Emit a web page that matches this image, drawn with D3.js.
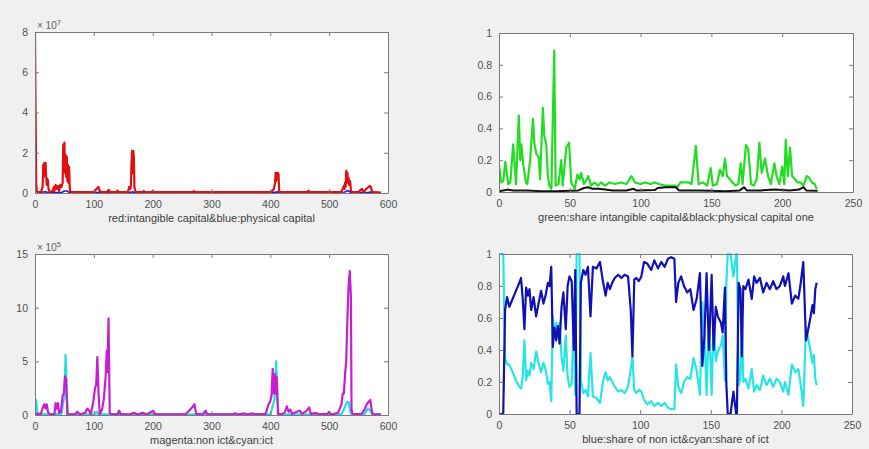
<!DOCTYPE html>
<html><head><meta charset="utf-8">
<script src="https://cdn.jsdelivr.net/npm/d3@7/dist/d3.min.js"></script>
<style>
html,body{margin:0;padding:0;background:#f0f0f0;}
svg{display:block;font-family:"Liberation Sans",Arial,Helvetica,sans-serif;}
</style></head><body>
<svg id="c" width="869" height="449"></svg>
<script>
// ---------- DATA ----------
// Panel 1 (x 0..600, values x 1e7)
const intangibleCapital = [[0,8],[1,4],[2,0.5],[3,0.1],[5,0.05],[10,0.05],[13,0.3],[14,1.4],[15,0.8],[16,1.5],[17,1.0],[18,1.5],[19,0.8],[20,0.4],[21,0.7],[22,0.6],[23,0.2],[25,0.05],[30,0.1],[32,0.3],[33,0.1],[35,0.4],[37,0.2],[39,0.35],[41,0.1],[43,0.4],[45,0.3],[47,0.5],[48,2.4],[49,1.2],[50,2.5],[51,1.0],[52,1.9],[53,0.8],[54,1.8],[55,0.6],[56,1.4],[57,0.5],[58,1.3],[59,0.3],[60,0.05],[70,0.05],[100,0.05],[103,0.15],[106,0.25],[108,0.3],[110,0.1],[113,0.05],[122,0.05],[125,0.15],[128,0.05],[138,0.05],[140,0.12],[142,0.05],[158,0.05],[160,0.3],[162,0.2],[163,0.35],[164,1.5],[165,2.1],[166,1.0],[167,2.1],[168,1.8],[169,0.3],[171,0.05],[183,0.05],[185,0.1],[187,0.05],[198,0.05],[200,0.1],[202,0.05],[268,0.05],[270,0.1],[272,0.05],[400,0.05],[403,0.1],[406,0.2],[408,0.5],[409,1.0],[410,0.6],[411,1.0],[412,0.7],[413,1.0],[414,0.9],[415,0.1],[417,0.05],[463,0.05],[465,0.12],[467,0.05],[520,0.05],[523,0.2],[525,0.35],[526,0.2],[527,0.5],[528,0.3],[529,1.1],[530,0.5],[531,1.0],[532,0.6],[533,0.75],[534,0.4],[535,0.6],[536,0.5],[537,0.1],[539,0.05],[550,0.05],[553,0.15],[556,0.2],[558,0.05],[560,0.1],[563,0.2],[565,0.25],[567,0.3],[569,0.35],[571,0.3],[573,0.05],[588,0.02]];
const physicalCapital = [[0,4],[1,2],[2,0.1],[5,0.02],[14,0.05],[18,0.06],[22,0.02],[46,0.04],[50,0.1],[55,0.1],[58,0.02],[163,0.03],[166,0.06],[169,0.02],[408,0.03],[411,0.06],[415,0.02],[527,0.05],[531,0.12],[535,0.06],[538,0.02],[567,0.04],[571,0.05],[588,0.01]];
// Panel 2 (x 0..250, shares)
const shareIntangible = [[0,0.17],[1.5,0.06],[3,0.07],[4.5,0.19],[6.5,0.05],[8,0.06],[10,0.30],[12,0.05],[14,0.48],[15,0.2],[15.8,0.30],[17,0.18],[19,0.06],[20,0.05],[22,0.2],[24,0.46],[25,0.3],[26.4,0.24],[28,0.22],[29,0.08],[31,0.53],[32,0.35],[33.4,0.30],[34.5,0.1],[35.5,0.04],[37,0.02],[39,0.89],[40,0.04],[42,0.05],[44,0.20],[45,0.04],[47.5,0.28],[49.5,0.31],[51,0.06],[53.5,0.02],[55.4,0.11],[57,0.08],[58,0.12],[60,0.05],[62,0.08],[63,0.10],[65,0.04],[67.5,0.06],[70,0.04],[72,0.06],[75,0.04],[78,0.06],[82,0.05],[86,0.06],[90,0.05],[93.5,0.10],[96,0.06],[100,0.05],[103,0.06],[107,0.05],[110,0.06],[113,0.05],[117,0.04],[120,0.04],[124,0.04],[126,0.03],[128,0.06],[131,0.06],[134,0.06],[136,0.05],[139,0.29],[141,0.05],[144,0.06],[147,0.04],[149.5,0.15],[151,0.04],[154,0.05],[156,0.14],[158,0.1],[159.6,0.21],[161,0.1],[163,0.08],[165,0.06],[167,0.04],[169,0.05],[170.7,0.18],[172,0.05],[174.4,0.295],[176,0.27],[178,0.05],[180,0.04],[182,0.08],[183.9,0.31],[185.5,0.12],[187.9,0.21],[190,0.1],[192,0.05],[194.5,0.18],[196,0.1],[198,0.05],[200,0.16],[201.5,0.05],[202.5,0.33],[204,0.1],[205.5,0.28],[207,0.1],[209,0.08],[211,0.06],[213,0.06],[215,0.04],[217.3,0.10],[219,0.09],[221,0.06],[223,0.05],[224.4,0.02]];
const sharePhysicalOne = [[0,0.005],[3,0.01],[6,0.015],[10,0.01],[20,0.01],[30,0.005],[40,0.005],[50,0.008],[56,0.01],[60,0.025],[63,0.03],[66,0.02],[70,0.02],[75,0.015],[80,0.01],[90,0.01],[95,0.02],[97,0.01],[110,0.012],[112,0.025],[118,0.03],[125,0.03],[127,0.01],[140,0.01],[150,0.008],[160,0.005],[170,0.01],[173,0.03],[175,0.01],[185,0.01],[195,0.015],[205,0.01],[212,0.015],[215,0.03],[217,0.01],[225,0.008]];
// Panel 3 (x 0..600, values x 1e5)
const nonIct = [[0,0.2],[3,0.1],[10,0.1],[14,0.8],[16,1.0],[18,0.6],[20,1.0],[22,0.3],[25,0.05],[33,0.05],[35,1.1],[37,0.6],[39,1.1],[41,0.2],[44,0.3],[47,1.8],[49,2.0],[51,3.6],[53,3.3],[55,0.1],[58,0.05],[68,0.05],[72,0.3],[76,0.05],[85,0.2],[89,0.6],[92,0.4],[95,0.1],[99,1.2],[102,2.5],[104,2.8],[106,5.4],[108,2.0],[110,0.1],[114,0.5],[117,1.5],[120,3.5],[122,6.0],[123,4.0],[125,9.0],[127,0.2],[130,0.05],[140,0.05],[143,0.4],[146,0.05],[160,0.05],[168,0.2],[175,0.05],[183,0.2],[190,0.05],[198,0.3],[201,0.4],[204,0.1],[210,0.05],[255,0.05],[262,0.4],[267,0.7],[271,1.0],[274,0.1],[285,0.05],[290,0.4],[293,0.05],[335,0.05],[340,0.15],[345,0.05],[355,0.15],[360,0.05],[370,0.15],[375,0.05],[392,0.1],[397,1.0],[400,1.3],[402,1.8],[404,4.3],[406,2.0],[408,3.8],[409,2.0],[411,3.5],[413,0.1],[420,0.05],[425,0.3],[428,0.8],[431,0.3],[434,0.5],[437,0.1],[445,0.3],[450,0.4],[454,0.1],[462,0.4],[466,0.7],[469,0.1],[478,0.2],[482,0.05],[497,0.1],[500,0.3],[503,0.05],[515,0.2],[518,0.6],[521,1.0],[523,2.0],[525,2.0],[527,3.8],[529,5.0],[531,9.0],[533,12.0],[535,13.4],[537,11.0],[538,0.5],[540,0.05],[555,0.1],[560,0.5],[564,1.0],[568,1.3],[570,1.4],[572,0.5],[574,0.05],[588,0.05]];
const ict = [[0,1.5],[2,1.4],[4,0.2],[8,0.05],[45,0.1],[48,1.2],[50,1.6],[52,5.6],[54,2.0],[56,0.05],[100,0.05],[105,0.3],[107,0.05],[400,0.05],[404,0.8],[407,1.5],[410,5.0],[412,1.5],[414,0.05],[520,0.05],[525,0.5],[530,1.2],[533,1.2],[536,0.3],[538,0.05],[560,0.1],[566,0.6],[570,0.4],[573,0.05],[588,0.05]];
// Panel 4 (x 0..250, shares)
const shareNonIct = [[0,0],[1,0],[2,0],[3,0],[4.3,0.65],[5.7,0.73],[7.3,0.67],[9.7,0.72],[12,0.77],[14.4,0.82],[15.6,0.85],[16.8,0.72],[18,0.53],[19.2,0.79],[20.4,0.74],[21.6,0.78],[22.8,0.65],[24.5,0.73],[26.3,0.61],[28,0.69],[29.8,0.77],[31.5,0.69],[33.2,0.75],[34.6,0.82],[35.8,0.80],[37,0.92],[38.1,0.42],[39.3,0.54],[40.5,0.46],[41.7,0.55],[42.9,0.44],[44.3,0.67],[45.6,0.76],[47.3,0.53],[48.6,0.80],[49.9,0.86],[51.5,0.83],[53,0.40],[54,0.90],[55,0],[56,0],[57,0],[58,0.82],[59.7,0.90],[61.3,0.87],[63,0.92],[64.8,0.61],[66.5,0.92],[69,0.91],[71.5,0.95],[73.8,0.82],[75.5,0.74],[77,0.82],[78.5,0.78],[80.2,0.82],[82,0.85],[84.4,0.87],[86.7,0.85],[89,0.87],[91.4,0.86],[93.3,0.65],[94.5,0.36],[95.8,0.84],[97.3,0.85],[99,0.83],[100.8,0.86],[102.7,0.95],[105,0.94],[107.8,0.90],[110,0.96],[112.6,0.91],[114.9,0.95],[117.3,0.92],[119.6,0.97],[121.9,0.98],[124.2,0.97],[125.4,0.70],[127,0.82],[129,0.86],[131,0.80],[133.3,0.76],[135.5,0.78],[137.8,0.65],[140,0.72],[142.3,0.88],[144,0.30],[145.5,0.49],[147,0.88],[148.7,0.40],[150.6,0.87],[152,0.40],[153.5,0.67],[155,0.61],[156,0.59],[157.2,0.57],[158.4,0.51],[160,0.79],[161,0.19],[162,0],[164,0],[166,0.14],[168,0],[168.5,0],[169.7,0.82],[171,0.78],[172,0.36],[173,0.80],[174.5,0.78],[176.7,0.84],[179,0.72],[180.7,0.86],[182.4,0.82],[184.8,0.85],[187.1,0.76],[189.5,0.82],[191.8,0.78],[194.2,0.83],[196.5,0.78],[198.9,0.80],[201.3,0.86],[202.5,0.80],[205,0.88],[207.4,0.69],[209.7,0.74],[212,0.72],[213.7,0.82],[215.5,0.95],[217.4,0.46],[219,0.53],[220.7,0.61],[222,0.68],[223,0.63],[224,0.78],[225,0.82]];
const shareIct = [[0,1],[1,1],[2,1],[3,1],[4.3,0.35],[5.7,0.31],[7.3,0.31],[9.7,0.26],[12,0.21],[14.4,0.17],[15.6,0.16],[16.8,0.23],[18,0.46],[19.2,0.21],[20.4,0.27],[21.6,0.24],[22.8,0.32],[24.5,0.28],[26.3,0.39],[28,0.32],[29.8,0.26],[31.5,0.32],[33.2,0.27],[34.6,0.19],[35.8,0.20],[37,0.08],[38.1,0.61],[39.3,0.49],[40.5,0.57],[41.7,0.49],[42.9,0.57],[44.3,0.36],[45.6,0.27],[47.3,0.49],[48.6,0.23],[49.9,0.17],[51.5,0.19],[53,0.61],[54,0.12],[55,1],[56,1],[57,1],[58,0.21],[59.7,0.13],[61.3,0.15],[63,0.11],[64.8,0.38],[66.5,0.11],[69,0.10],[71.5,0.07],[73.8,0.21],[75.5,0.26],[77,0.21],[78.5,0.23],[80.2,0.20],[82,0.17],[84.4,0.14],[86.7,0.15],[89,0.13],[91.4,0.17],[93.3,0.28],[94.5,0.36],[95.8,0.15],[97.3,0.13],[99,0.15],[100.8,0.14],[102.7,0.09],[105,0.06],[107.8,0.08],[110,0.05],[112.6,0.07],[114.9,0.05],[117.3,0.07],[119.6,0.04],[121.9,0.03],[124.2,0.03],[125.4,0.31],[127,0.17],[129,0.13],[131,0.20],[133.3,0.23],[135.5,0.22],[137.8,0.35],[140,0.27],[142.3,0.12],[144,0.70],[145.5,0.50],[147,0.12],[148.7,0.60],[150.6,0.12],[152,0.60],[153.5,0.33],[155,0.39],[156,0.41],[157.2,0.43],[158.4,0.49],[160,0.21],[161,0.81],[162,1],[164,1],[166,0.86],[168,1],[168.5,1],[169.7,0.18],[171,0.22],[172,0.64],[173,0.20],[174.5,0.22],[176.7,0.16],[179,0.28],[180.7,0.14],[182.4,0.18],[184.8,0.15],[187.1,0.24],[189.5,0.18],[191.8,0.22],[194.2,0.17],[196.5,0.22],[198.9,0.20],[201.3,0.14],[202.5,0.20],[205,0.12],[207.4,0.31],[209.7,0.26],[212,0.28],[213.7,0.18],[215.5,0.05],[217.4,0.54],[219,0.47],[220.7,0.39],[222,0.32],[223,0.37],[224,0.22],[225,0.18]];

const xTicks600 = [0,100,200,300,400,500,600];
const xTicks250 = [0,50,100,150,200,250];
const yTicksP1 = [0,2,4,6,8];
const yTicksShare = [0,0.2,0.4,0.6,0.8,1];
const yTicksP3 = [0,5,10,15];
const labels = ["red:intangible capital&blue:physical capital","green:share intangible capital&black:physical capital one","magenta:non ict&cyan:ict","blue:share of non ict&cyan:share of ict"];

// ---------- DRAW ----------
const svg = d3.select("#c");
const panels = [
  {box:[35,32,388,193], xd:[0,600], yd:[0,8], xt:xTicks600, yt:yTicksP1, label:labels[0], exp:"7",
   series:[{d:physicalCapital,c:"#1a1ae6",w:1.6},{d:intangibleCapital,c:"#e01010",w:2.2}]},
  {box:[499,33,853,192], xd:[0,250], yd:[0,1], xt:xTicks250, yt:yTicksShare, label:labels[1],
   series:[{d:shareIntangible,c:"#22dd22",w:2.2},{d:sharePhysicalOne,c:"#111111",w:2}]},
  {box:[35,254,388,415], xd:[0,600], yd:[0,15], xt:xTicks600, yt:yTicksP3, label:labels[2], exp:"5",
   series:[{d:ict,c:"#22dede",w:2.2},{d:nonIct,c:"#c81ed2",w:2.2}]},
  {box:[499,254,852,414], xd:[0,250], yd:[0,1], xt:xTicks250, yt:yTicksShare, label:labels[3],
   series:[{d:shareIct,c:"#28e4e4",w:2.2},{d:shareNonIct,c:"#1010b4",w:2.2}]}
];
const fmt = v => String(+v.toFixed(2));
panels.forEach((p,i)=>{
  const [x0,y0,x1,y1] = p.box;
  const x = d3.scaleLinear().domain(p.xd).range([x0,x1]);
  const y = d3.scaleLinear().domain(p.yd).range([y1,y0]);
  const g = svg.append("g");
  g.append("rect").attr("x",x0).attr("y",y0).attr("width",x1-x0).attr("height",y1-y0).attr("fill","#fff");
  const cid = "clip"+i;
  g.append("clipPath").attr("id",cid).append("rect").attr("x",x0).attr("y",y0-2).attr("width",x1-x0).attr("height",y1-y0+2);
  const line = d3.line().x(d=>x(d[0])).y(d=>y(d[1]));
  p.series.forEach(s=>{
    g.append("path").attr("d",line(s.d)).attr("fill","none").attr("stroke",s.c)
     .attr("stroke-width",s.w).attr("stroke-linejoin","round").attr("clip-path",`url(#${cid})`);
  });
  const tl = 4;
  const axB = d3.axisBottom(x).tickValues(p.xt).tickFormat(fmt).tickSizeInner(-tl).tickSizeOuter(0).tickPadding(8);
  const axT = d3.axisTop(x).tickValues(p.xt).tickFormat("").tickSizeInner(-tl).tickSizeOuter(0);
  const axL = d3.axisLeft(y).tickValues(p.yt).tickFormat(fmt).tickSizeInner(-tl).tickSizeOuter(0).tickPadding(7);
  const axR = d3.axisRight(y).tickValues(p.yt).tickFormat("").tickSizeInner(-tl).tickSizeOuter(0);
  const style = sel => { sel.selectAll("path").attr("stroke","#7a7a7a");
    sel.selectAll("line").attr("stroke","#7a7a7a");
    sel.selectAll("text").attr("fill","#505050").attr("font-size","10.5px").attr("font-family","Liberation Sans, Arial, sans-serif"); };
  g.append("g").attr("transform",`translate(0,${y1})`).call(axB).call(style);
  g.append("g").attr("transform",`translate(0,${y0})`).call(axT).call(style);
  g.append("g").attr("transform",`translate(${x0},0)`).call(axL).call(style);
  g.append("g").attr("transform",`translate(${x1},0)`).call(axR).call(style);
  g.append("text").attr("x",(x0+x1)/2).attr("y",y1+29).attr("text-anchor","middle")
   .attr("fill","#404040").attr("font-size","11px").text(p.label);
  if(p.exp){
    const t = g.append("text").attr("x",x0+2).attr("y",y0-3).attr("fill","#606060").attr("font-size","10px");
    t.append("tspan").text("\u00d7 10");
    t.append("tspan").attr("dy",-4).attr("font-size","7.5px").text(p.exp);
  }
});
</script>
</body></html>
